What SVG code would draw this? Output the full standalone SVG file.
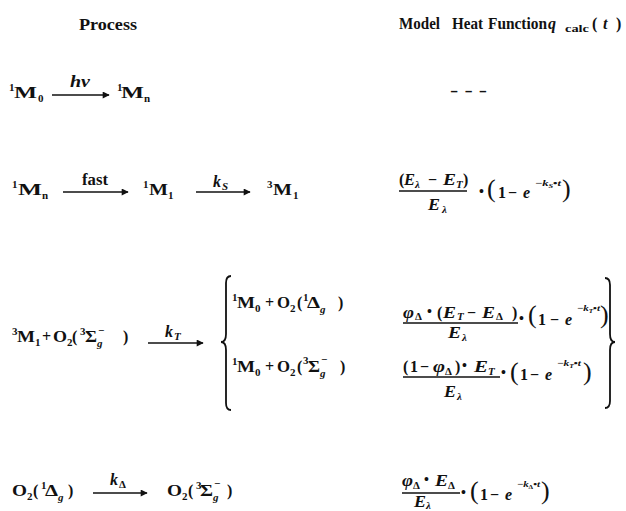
<svg xmlns="http://www.w3.org/2000/svg" width="626" height="511" viewBox="0 0 626 511">
<style>
text { font-family: "Liberation Serif", "Times New Roman", serif; font-weight: bold; fill: #111; }
.h { font-size: 16px; }
.a { font-size: 16px; }
.s { font-size: 11px; }
.x { font-size: 9px; }
.b { font-size: 14px; }
.p { font-size: 26px; font-weight: normal; }
.i { font-style: italic; }
.rule { stroke: #111; stroke-width: 1.3; }
.arr { stroke: #111; stroke-width: 1.3; fill: none; marker-end: url(#ah); }
.brace { stroke: #111; stroke-width: 1.8; fill: none; }
</style>
<defs>
<marker id="ah" viewBox="0 0 10 10" refX="9" refY="5" markerWidth="8" markerHeight="7" orient="auto" markerUnits="userSpaceOnUse">
<path d="M0,0 L10,5 L0,10 z" fill="#111"/>
</marker>
</defs>
<rect width="626" height="511" fill="#fff"/>

<g id="header">
<text class="h" x="79" y="30" textLength="58" lengthAdjust="spacingAndGlyphs">Process</text>
<text class="h" x="399" y="29" textLength="41" lengthAdjust="spacingAndGlyphs">Model</text>
<text class="h" x="452" y="29" textLength="31" lengthAdjust="spacingAndGlyphs">Heat</text>
<text class="h" x="488" y="29" textLength="59" lengthAdjust="spacingAndGlyphs">Function</text>
<text class="h i" x="548" y="29" font-size="18">q</text>
<text class="s" x="565" y="32" font-size="9" textLength="24" lengthAdjust="spacingAndGlyphs">calc</text>
<text class="h" x="592" y="29">(</text>
<text class="h i" x="603" y="29">t</text>
<text class="h" x="616" y="29">)</text>
</g>

<g id="connectors">
<line class="arr" x1="52" y1="95" x2="109" y2="95"/>
<line class="arr" x1="63" y1="192" x2="128" y2="192"/>
<line class="arr" x1="196" y1="192" x2="250" y2="192"/>
<line class="arr" x1="148" y1="343" x2="203" y2="343"/>
<line class="arr" x1="93" y1="493" x2="147" y2="493"/>
</g>

<g id="r1-process">
<text class="s" x="9" y="91">1</text>
<text class="a" x="14" y="98" textLength="23" lengthAdjust="spacingAndGlyphs">M</text>
<text class="s" x="38" y="102">0</text>
<text class="a i" x="70" y="87" textLength="20" lengthAdjust="spacingAndGlyphs">hν</text>
<text class="s" x="117" y="91">1</text>
<text class="a" x="121" y="98" textLength="23" lengthAdjust="spacingAndGlyphs">M</text>
<text class="s" x="144" y="102">n</text>
</g>
<g id="r1-heat">
<text class="a" x="450" y="96" textLength="37" lengthAdjust="spacingAndGlyphs">- - -</text>
</g>

<g id="r2-process">
<text class="s" x="12" y="188">1</text>
<text class="a" x="18" y="195" textLength="24" lengthAdjust="spacingAndGlyphs">M</text>
<text class="s" x="42" y="199">n</text>
<text class="a" x="82" y="185" font-size="15" textLength="26" lengthAdjust="spacingAndGlyphs">fast</text>
<text class="s" x="143" y="188">1</text>
<text class="a" x="149" y="195" textLength="19" lengthAdjust="spacingAndGlyphs">M</text>
<text class="s" x="168" y="199">1</text>
<text class="a i" x="213" y="187">k</text>
<text class="s i" x="222" y="190">S</text>
<text class="s" x="267" y="188">3</text>
<text class="a" x="273" y="195" textLength="19" lengthAdjust="spacingAndGlyphs">M</text>
<text class="s" x="293" y="199">1</text>
</g>
<g id="r2-heat">
<text class="a" x="399" y="185">(</text>
<text class="a i" x="404" y="185" textLength="11" lengthAdjust="spacingAndGlyphs">E</text>
<text class="s i" x="415" y="188">λ</text>
<text class="a" x="428" y="185">−</text>
<text class="a i" x="443" y="185" textLength="13" lengthAdjust="spacingAndGlyphs">E</text>
<text class="s i" x="456" y="188">T</text>
<text class="a" x="463" y="185">)</text>
<line class="rule" x1="399" y1="191" x2="467" y2="191"/>
<text class="a i" x="428" y="210" textLength="12" lengthAdjust="spacingAndGlyphs">E</text>
<text class="s i" x="442" y="213">λ</text>
<text class="b" x="479" y="196">•</text>
<text class="p" x="487" y="197">(</text>
<text class="a" x="498" y="198">1</text>
<text class="a" x="508" y="198">−</text>
<text class="a i" x="523" y="198">e</text>
<text class="x" x="535" y="186" textLength="26" lengthAdjust="spacingAndGlyphs">−<tspan class="i">k</tspan><tspan class="i" font-size="6" dy="2">S</tspan><tspan dy="-2">•</tspan><tspan class="i">t</tspan></text>
<text class="p" x="562" y="197">)</text>
</g>

<g id="r3-process">
<text class="s" x="12" y="335">3</text>
<text class="a" x="17" y="342" textLength="18" lengthAdjust="spacingAndGlyphs">M</text>
<text class="s" x="35" y="346">1</text>
<text class="a" x="42" y="342">+</text>
<text class="a" x="53" y="342" textLength="14" lengthAdjust="spacingAndGlyphs">O</text>
<text class="s" x="67" y="346">2</text>
<text class="a" x="72" y="342">(</text>
<text class="s" x="80" y="335">3</text>
<text class="a" x="85" y="342" textLength="12" lengthAdjust="spacingAndGlyphs">Σ</text>
<text class="s i" x="97" y="347">g</text>
<text class="s" x="98" y="334">−</text>
<text class="a" x="123" y="342">)</text>
<text class="a i" x="165" y="337">k</text>
<text class="s i" x="174" y="340">T</text>
</g>
<g id="r3-products">
<path class="brace" d="M231,276 Q226,276 226,283 L226,334 Q226,342 221,342 Q226,342 226,350 L226,403 Q226,410 231,410"/>
<text class="s" x="232" y="301">1</text>
<text class="a" x="237" y="308" textLength="18" lengthAdjust="spacingAndGlyphs">M</text>
<text class="s" x="255" y="312">0</text>
<text class="a" x="265" y="308">+</text>
<text class="a" x="277" y="308" textLength="13" lengthAdjust="spacingAndGlyphs">O</text>
<text class="s" x="290" y="312">2</text>
<text class="a" x="297" y="308">(</text>
<text class="s" x="303" y="301">1</text>
<text class="a" x="307" y="308" textLength="13" lengthAdjust="spacingAndGlyphs">Δ</text>
<text class="s i" x="320" y="313">g</text>
<text class="a" x="338" y="308">)</text>
<text class="s" x="232" y="365">1</text>
<text class="a" x="237" y="372" textLength="18" lengthAdjust="spacingAndGlyphs">M</text>
<text class="s" x="255" y="376">0</text>
<text class="a" x="265" y="372">+</text>
<text class="a" x="277" y="372" textLength="13" lengthAdjust="spacingAndGlyphs">O</text>
<text class="s" x="290" y="376">2</text>
<text class="a" x="297" y="372">(</text>
<text class="s" x="303" y="364">3</text>
<text class="a" x="308" y="372" textLength="12" lengthAdjust="spacingAndGlyphs">Σ</text>
<text class="s i" x="320" y="377">g</text>
<text class="s" x="321" y="363">−</text>
<text class="a" x="340" y="372">)</text>
</g>
<g id="r3-heat">
<text class="a i" x="403" y="318" textLength="11" lengthAdjust="spacingAndGlyphs">φ</text>
<text class="s" x="415" y="320">Δ</text>
<text class="b" x="427" y="316">•</text>
<text class="a" x="437" y="318">(</text>
<text class="a i" x="443" y="318" textLength="13" lengthAdjust="spacingAndGlyphs">E</text>
<text class="s i" x="457" y="320">T</text>
<text class="a" x="467" y="318">−</text>
<text class="a i" x="482" y="318" textLength="13" lengthAdjust="spacingAndGlyphs">E</text>
<text class="s" x="496" y="320">Δ</text>
<text class="a" x="512" y="318">)</text>
<line class="rule" x1="403" y1="323" x2="518" y2="323"/>
<text class="a i" x="448" y="338" textLength="13" lengthAdjust="spacingAndGlyphs">E</text>
<text class="s i" x="462" y="341">λ</text>
<text class="b" x="519" y="323">•</text>
<text class="p" x="528" y="323">(</text>
<text class="a" x="538" y="325">1</text>
<text class="a" x="550" y="325">−</text>
<text class="a i" x="565" y="325">e</text>
<text class="x" x="577" y="311" textLength="23" lengthAdjust="spacingAndGlyphs">−<tspan class="i">k</tspan><tspan class="i" font-size="6" dy="2">T</tspan><tspan dy="-2">•</tspan><tspan class="i">t</tspan></text>
<text class="p" x="600" y="323">)</text>

<text class="a" x="403" y="372">(</text>
<text class="a" x="410" y="372">1</text>
<text class="a" x="420" y="372">−</text>
<text class="a i" x="433" y="372" textLength="12" lengthAdjust="spacingAndGlyphs">φ</text>
<text class="s" x="445" y="375">Δ</text>
<text class="a" x="455" y="372">)</text>
<text class="b" x="462" y="370">•</text>
<text class="a i" x="474" y="372" textLength="14" lengthAdjust="spacingAndGlyphs">E</text>
<text class="s i" x="488" y="375">T</text>
<line class="rule" x1="403" y1="377" x2="500" y2="377"/>
<text class="a i" x="444" y="397" textLength="12" lengthAdjust="spacingAndGlyphs">E</text>
<text class="s i" x="457" y="400">λ</text>
<text class="b" x="501" y="377">•</text>
<text class="p" x="510" y="380">(</text>
<text class="a" x="520" y="380">1</text>
<text class="a" x="530" y="380">−</text>
<text class="a i" x="545" y="380">e</text>
<text class="x" x="557" y="366" textLength="24" lengthAdjust="spacingAndGlyphs">−<tspan class="i">k</tspan><tspan class="i" font-size="6" dy="2">T</tspan><tspan dy="-2">•</tspan><tspan class="i">t</tspan></text>
<text class="p" x="583" y="380">)</text>
<path class="brace" d="M605,278 Q610,278 610,285 L610,334 Q610,342 615,342 Q610,342 610,350 L610,401 Q610,408 605,408"/>
</g>

<g id="r4-process">
<text class="a" x="12" y="496" textLength="15" lengthAdjust="spacingAndGlyphs">O</text>
<text class="s" x="27" y="500">2</text>
<text class="a" x="33" y="496">(</text>
<text class="s" x="41" y="489">1</text>
<text class="a" x="45" y="496" textLength="13" lengthAdjust="spacingAndGlyphs">Δ</text>
<text class="s i" x="58" y="501">g</text>
<text class="a" x="68" y="496">)</text>
<text class="a i" x="110" y="485">k</text>
<text class="s" x="119" y="488">Δ</text>
<text class="a" x="167" y="496" textLength="15" lengthAdjust="spacingAndGlyphs">O</text>
<text class="s" x="182" y="500">2</text>
<text class="a" x="188" y="496">(</text>
<text class="s" x="196" y="489">3</text>
<text class="a" x="200" y="496" textLength="13" lengthAdjust="spacingAndGlyphs">Σ</text>
<text class="s i" x="213" y="501">g</text>
<text class="s" x="214" y="487">−</text>
<text class="a" x="227" y="496">)</text>
</g>
<g id="r4-heat">
<text class="a i" x="402" y="486" textLength="11" lengthAdjust="spacingAndGlyphs">φ</text>
<text class="s" x="413" y="489">Δ</text>
<text class="b" x="424" y="484">•</text>
<text class="a i" x="435" y="486" textLength="13" lengthAdjust="spacingAndGlyphs">E</text>
<text class="s" x="448" y="489">Δ</text>
<line class="rule" x1="402" y1="493" x2="460" y2="493"/>
<text class="a i" x="414" y="507" textLength="12" lengthAdjust="spacingAndGlyphs">E</text>
<text class="s i" x="426" y="509">λ</text>
<text class="b" x="461" y="497">•</text>
<text class="p" x="470" y="499">(</text>
<text class="a" x="480" y="500">1</text>
<text class="a" x="490" y="500">−</text>
<text class="a i" x="505" y="500">e</text>
<text class="x" x="517" y="487" textLength="23" lengthAdjust="spacingAndGlyphs">−<tspan class="i">k</tspan><tspan font-size="6" dy="2">Δ</tspan><tspan dy="-2">•</tspan><tspan class="i">t</tspan></text>
<text class="p" x="541" y="499">)</text>
</g>
</svg>
